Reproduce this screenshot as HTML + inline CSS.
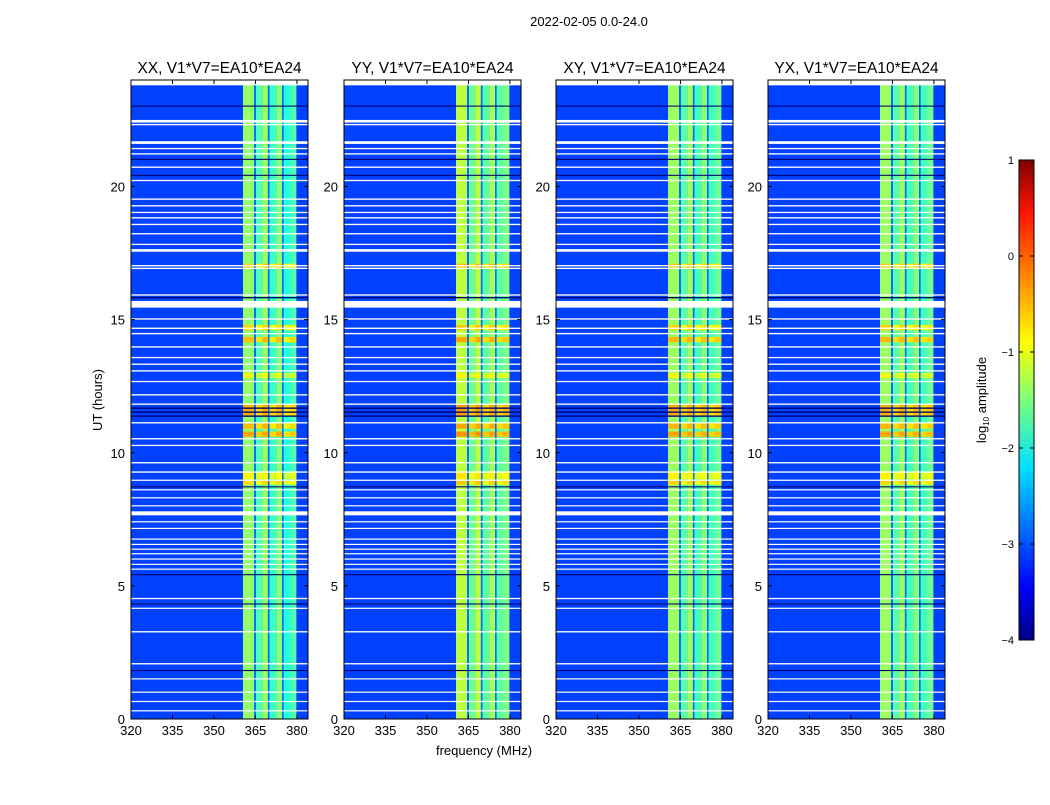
<!DOCTYPE html>
<html><head><meta charset="utf-8"><style>
body{margin:0;background:#fff;font-family:"Liberation Sans","DejaVu Sans",sans-serif}
svg text{font-family:"Liberation Sans","DejaVu Sans",sans-serif}
</style></head><body>
<svg id="chart" width="1050" height="800" xmlns="http://www.w3.org/2000/svg">
<defs>
<linearGradient id="jet" x1="0" y1="1" x2="0" y2="0">
<stop offset="0" stop-color="#00007f"/><stop offset="0.11" stop-color="#0000ff"/>
<stop offset="0.36" stop-color="#00e0ff"/><stop offset="0.5" stop-color="#7dff7a"/>
<stop offset="0.62" stop-color="#ffff00"/><stop offset="0.89" stop-color="#ff1400"/>
<stop offset="1" stop-color="#7f0000"/></linearGradient>
</defs>
<text x="589" y="26" font-size="13" text-anchor="middle">2022-02-05 0.0-24.0</text>
<text x="484" y="755" font-size="13" text-anchor="middle">frequency (MHz)</text>
<text transform="translate(102,400) rotate(-90)" font-size="13" text-anchor="middle">UT (hours)</text>
<g id="panels"></g>
<g id="cbar"></g>
</svg>
<script>
const panelTitles = ["XX, V1*V7=EA10*EA24","YY, V1*V7=EA10*EA24","XY, V1*V7=EA10*EA24","YX, V1*V7=EA10*EA24"];
const xTicks = [320,335,350,365,380];
const yTicks = [0,5,10,15,20];
const cbTicks = [1,0,-1,-2,-3,-4];
const bgLevel = [-3.05,-3.05,-3.05,-3.05];
// band columns: [startMHz, endMHz, log10 level] per panel
const bandXX = [[360.5,364.5,-1.4],[364.5,365.2,-2.8],[365.2,367.5,-1.75],[367.5,369.5,-1.35],[369.5,370.1,-2.8],[370.1,372.5,-1.85],[372.5,374.6,-1.45],[374.6,375.2,-2.8],[375.2,377.5,-1.95],[377.5,379.8,-1.75]];
const bandYY = [[360.5,364.5,-1.2],[364.5,365.2,-2.8],[365.2,367.5,-1.6],[367.5,369.5,-1.2],[369.5,370.1,-2.8],[370.1,372.5,-1.7],[372.5,374.6,-1.3],[374.6,375.2,-2.8],[375.2,377.5,-1.7],[377.5,379.8,-1.5]];
const bandXY = [[360.5,364.5,-1.35],[364.5,365.2,-2.8],[365.2,367.5,-1.7],[367.5,369.5,-1.35],[369.5,370.1,-2.8],[370.1,372.5,-1.8],[372.5,374.6,-1.45],[374.6,375.2,-2.8],[375.2,377.5,-1.8],[377.5,379.8,-1.6]];
const bands = [bandXX,bandYY,bandXY,bandXY];
// white (flagged) gaps in hours: [start, end]
const gaps = [[23.8,24.0],[22.4,22.5],[22.3,22.35],[21.6,21.7],[21.4,21.45],[21.2,21.25],[20.7,20.75],[20.2,20.25],[19.5,19.55],[19.25,19.3],[19.0,19.05],[18.8,18.85],[18.55,18.6],[18.2,18.25],[17.8,17.85],[17.6,17.65],[17.55,17.6],[17.0,17.05],[16.9,16.95],[15.9,15.95],[15.45,15.7],[15.0,15.05],[14.65,14.7],[14.45,14.5],[13.95,14.0],[13.55,13.6],[13.3,13.35],[13.05,13.1],[12.65,12.7],[12.15,12.2],[11.8,11.85],[11.1,11.15],[10.5,10.55],[10.25,10.3],[9.6,9.65],[9.25,9.3],[8.95,8.99],[8.6,8.63],[8.3,8.33],[8.0,8.03],[7.65,7.8],[7.4,7.43],[7.15,7.18],[6.75,6.78],[6.55,6.58],[6.37,6.4],[6.2,6.23],[6.0,6.03],[5.8,5.83],[5.62,5.65],[4.5,4.55],[4.15,4.18],[3.25,3.3],[2.05,2.1],[1.5,1.53],[1.0,1.03],[0.65,0.68],[0.3,0.33]];
// dark (black) rows in hours
const darkRows = [[23.0,23.04],[21.0,21.04],[20.4,20.44],[15.8,15.85],[11.65,11.7],[11.5,11.55],[11.35,11.4],[8.7,8.74],[5.4,5.44],[4.3,4.34],[1.8,1.84]];
// bright band rows in hours: [start,end,level]
const brightRows = [[14.6,14.8,-0.75],[14.15,14.35,-0.6],[11.4,11.8,-0.55],[10.9,11.1,-0.6],[10.6,10.8,-0.5],[9.0,9.3,-0.9],[8.8,8.95,-0.75],[16.95,17.1,-0.7],[12.8,13.0,-1.0]];

function jet(v){
  const t=Math.max(0,Math.min(1,(v+4)/5));
  const r=Math.max(0,Math.min(1,1.5-Math.abs(4*t-3)));
  const g=Math.max(0,Math.min(1,1.5-Math.abs(4*t-2)));
  const b=Math.max(0,Math.min(1,1.5-Math.abs(4*t-1)));
  return `rgb(${Math.round(r*255)},${Math.round(g*255)},${Math.round(b*255)})`;
}
const NS="http://www.w3.org/2000/svg";
function mk(tag,attrs,parent){const e=document.createElementNS(NS,tag);for(const k in attrs)e.setAttribute(k,attrs[k]);parent.appendChild(e);return e;}
const panelX=[131,344,556,768], PW=177, PT=80, PB=719;
const fMin=320,fMax=384.0,hMin=0,hMax=24;
const panelsG=document.getElementById('panels');
panelTitles.forEach((title,p)=>{
  const x0=panelX[p];
  const xs=f=>x0+(f-fMin)/(fMax-fMin)*PW;
  const ys=h=>PB-(h-hMin)/(hMax-hMin)*(PB-PT);
  const g=mk('g',{},panelsG);
  
  
  const bg=mk('rect',{x:x0,y:PT,width:PW,height:PB-PT,fill:jet(bgLevel[p])},g);
  
  
  bands[p].forEach(b=>{
    const r=mk('rect',{x:xs(b[0]),y:ys(24),width:xs(b[1])-xs(b[0]),height:ys(0)-ys(24),fill:jet(b[2])},g);
    
    
  });
  brightRows.forEach(b=>{
    bands[p].forEach(c=>{
      if(c[2]<-2.5)return;
      const r=mk('rect',{x:xs(c[0]),y:ys(b[1]),width:xs(c[1])-xs(c[0]),height:ys(b[0])-ys(b[1]),fill:jet(b[2]+(c[2]+1.5)*0.5)},g);
      
      
    });
  });
  darkRows.forEach(d=>{
    const r=mk('rect',{x:x0,y:ys(d[1]),width:PW,height:Math.max(1,ys(d[0])-ys(d[1])),fill:'#00006a'},g);
    
    
  });
  gaps.forEach(d=>{
    const r=mk('rect',{x:x0,y:ys(d[1]),width:PW,height:Math.max(1.2,ys(d[0])-ys(d[1])),fill:'#fff'},g);
    
    
  });
  const fr=mk('rect',{x:x0,y:PT,width:PW,height:PB-PT,fill:'none',stroke:'#000','stroke-width':1},g);
  
  
  xTicks.forEach(t=>{
    const x=xs(t);
    mk('line',{x1:x,x2:x,y1:PB,y2:PB-4,stroke:'#000'},g);
    mk('line',{x1:x,x2:x,y1:PT,y2:PT+4,stroke:'#000'},g);
    const tx=mk('text',{x:x,y:PB+16,'font-size':13,'text-anchor':'middle'},g);
    tx.textContent=t;
    
    
  });
  yTicks.forEach(t=>{
    const y=ys(t);
    mk('line',{x1:x0,x2:x0+4,y1:y,y2:y,stroke:'#000'},g);
    mk('line',{x1:x0+PW,x2:x0+PW-4,y1:y,y2:y,stroke:'#000'},g);
    const tx=mk('text',{x:x0-6,y:y+5,'font-size':13,'text-anchor':'end'},g);
    tx.textContent=t;
    
    
  });
  const tt=mk('text',{x:x0+PW/2,y:73,'font-size':15.5,'text-anchor':'middle'},g);
  tt.textContent=title;
  
  
});
// colorbar
const cb=document.getElementById('cbar');
const CX=1019,CW=15,CT=160,CB=640;
const cys=v=>CB-(v+4)/5*(CB-CT);
mk('rect',{x:CX,y:CT,width:CW,height:CB-CT,fill:'url(#jet)',stroke:'#000'},cb);
cbTicks.forEach(t=>{
  const y=cys(t);
  mk('line',{x1:CX,x2:CX+4,y1:y,y2:y,stroke:'#000'},cb);
  mk('line',{x1:CX+CW,x2:CX+CW-4,y1:y,y2:y,stroke:'#000'},cb);
  const tx=mk('text',{x:CX-5,y:y+4,'font-size':11,'text-anchor':'end'},cb);
  tx.textContent=t<0?'\u2212'+(-t):String(t);
  
  
});
const ct=mk('text',{transform:'translate(986,400) rotate(-90)','font-size':13,'text-anchor':'middle'},cb);
ct.innerHTML='log<tspan font-size="8" dy="3">10</tspan><tspan dy="-3"> amplitude</tspan>';


</script>
</body></html>
